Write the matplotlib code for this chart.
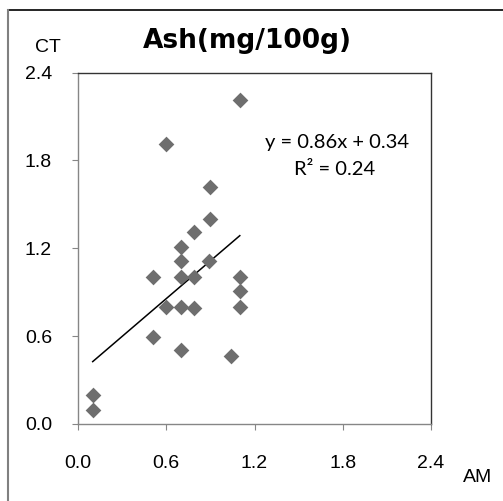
import matplotlib
matplotlib.use('Agg')
import matplotlib.pyplot as plt
from matplotlib.lines import Line2D
import numpy as np

# AM (x) vs CT (y) values
am = [1.10, 0.60, 0.90, 0.90, 0.79, 0.70, 0.70, 0.89, 0.51, 0.70, 0.79,
      1.10, 1.10, 0.60, 0.70, 0.79, 1.10, 0.51, 0.70, 1.04, 0.10, 0.10]
ct = [2.21, 1.91, 1.615, 1.40, 1.31, 1.21, 1.11, 1.11, 1.005, 1.005, 1.005,
      1.005, 0.91, 0.80, 0.80, 0.79, 0.80, 0.596, 0.505, 0.466, 0.198, 0.096]
slope = 0.86
intercept = 0.34
r2 = 0.24
ticks = [0.0, 0.6, 1.2, 1.8, 2.4]
tick_labels = ['0.0', '0.6', '1.2', '1.8', '2.4']

W, H = 503, 501
fig = plt.figure(figsize=(W/100, H/100), dpi=100)
ax = fig.add_axes([78/W, 1 - 424/H, 353/W, 351.5/H])

ax.scatter(am, ct, marker='D', s=8.0**2, color='#6e6e6e', linewidths=0, zorder=3)

xl = np.array([min(am), max(am)])
ax.plot(xl, slope*xl + intercept, color='black', lw=1.1, zorder=2)

ax.set_xlim(0, 2.4)
ax.set_ylim(0, 2.4)
ax.set_xticks(ticks)
ax.set_xticklabels(tick_labels)
ax.set_yticks(ticks)
ax.set_yticklabels(tick_labels)
ax.tick_params(axis='both', direction='out', length=4.3, width=0.8, color='#868686',
               labelsize=14)
ax.tick_params(axis='y', pad=14.5)
ax.tick_params(axis='x', pad=18)
for lab in ax.get_xticklabels() + ax.get_yticklabels():
    lab.set_family('Liberation Sans')

ax.spines['left'].set_color('#868686')
ax.spines['bottom'].set_color('#868686')
ax.spines['top'].set_color('#333333')
ax.spines['right'].set_color('#333333')
for sp in ax.spines.values():
    sp.set_linewidth(1.0)

# trendline label
fig.text(337/W, 1 - 148/H, 'y = %.2fx + %.2f' % (slope, intercept),
         ha='center', va='baseline', fontsize=14.5, family='Lato')
fig.text(335/W, 1 - 175/H, 'R² = %.2f' % r2,
         ha='center', va='baseline', fontsize=14.5, family='Lato')

fig.text(247/W, 1 - 48/H, 'Ash(mg/100g)', ha='center', va='baseline',
         fontsize=19, fontweight='bold', family='DejaVu Sans')
fig.text(47.5/W, 1 - 52/H, 'CT', ha='center', va='baseline', fontsize=14,
         family='Liberation Sans')
fig.text(478/W, 1 - 482/H, 'AM', ha='center', va='baseline', fontsize=14,
         family='Liberation Sans')

# outer frame lines (top and left only)
fig.add_artist(Line2D([7.5/W, 1], [1 - 9.5/H, 1 - 9.5/H], color='black', lw=1.2,
                      transform=fig.transFigure))
fig.add_artist(Line2D([7.5/W, 7.5/W], [0, 1 - 9.5/H], color='#808080', lw=1.5,
                      transform=fig.transFigure))

fig.savefig('out.png', dpi=100)
